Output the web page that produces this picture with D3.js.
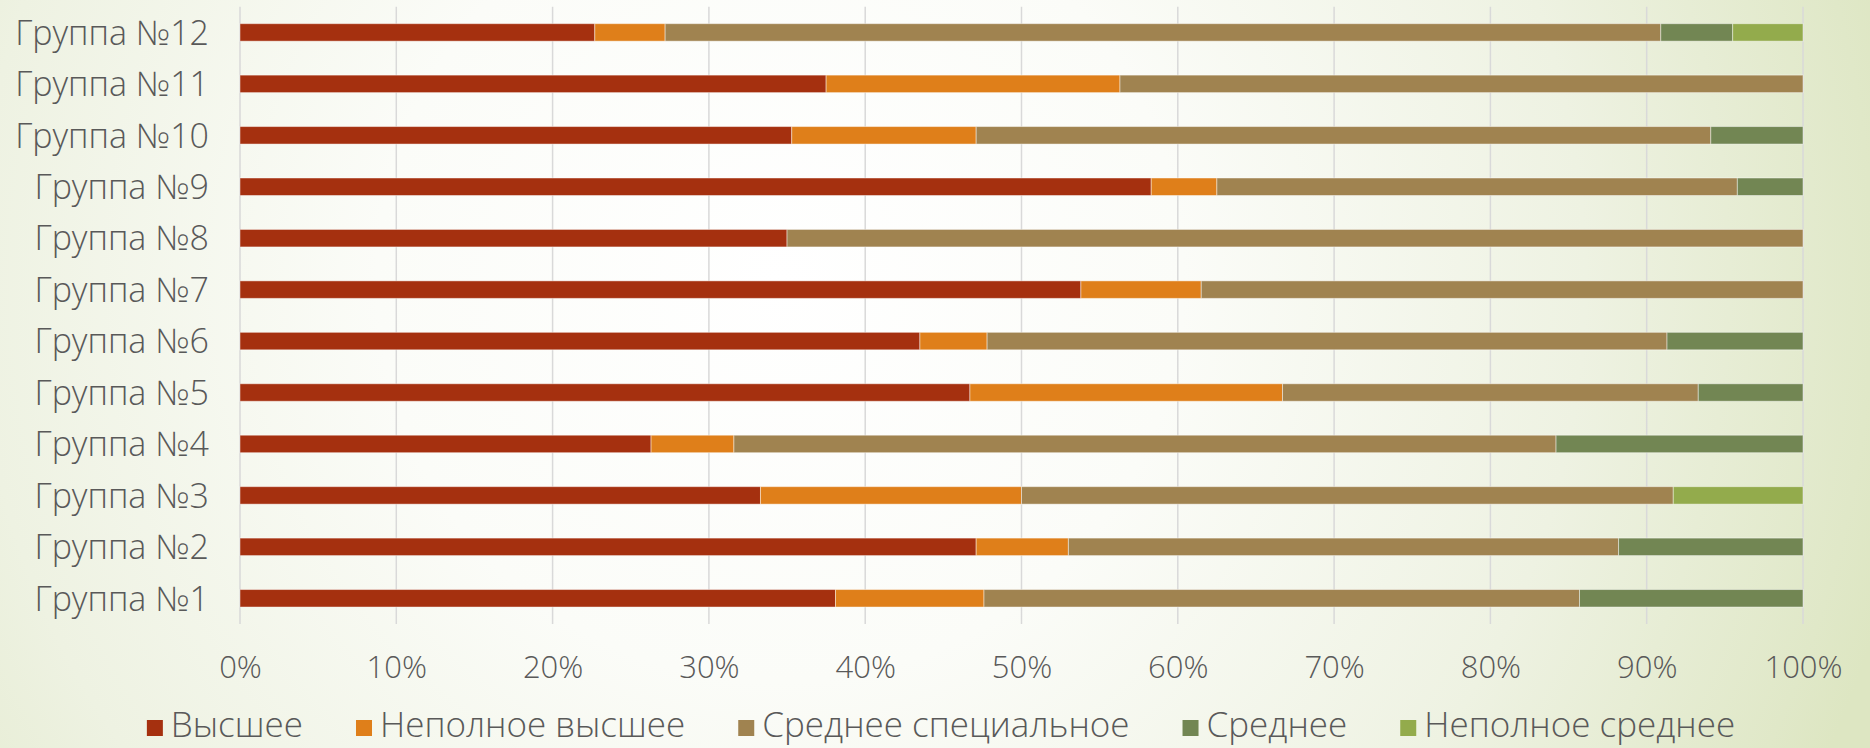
<!DOCTYPE html>
<html>
<head>
<meta charset="utf-8">
<script src="https://cdn.jsdelivr.net/npm/d3@7"></script>
<style>
    html, body { margin: 0; padding: 0; }
    svg { display: block; }
    text { font-family: "Open Sans", "DejaVu Sans", sans-serif; font-weight: 300; fill: #595959; }
</style>
</head>
<body>
<svg id="chart"></svg>
<script>
const width = 1870;
const height = 748;
const margin = {top: 6.7, right: 67, bottom: 124, left: 240};

// Categories, bottom to top
const groups = ["Группа №1", "Группа №2", "Группа №3", "Группа №4", "Группа №5", "Группа №6",
    "Группа №7", "Группа №8", "Группа №9", "Группа №10", "Группа №11", "Группа №12"];
const levels = ["Высшее", "Неполное высшее", "Среднее специальное", "Среднее", "Неполное среднее"];
const colors = ["#a5300f", "#df7f1a", "#a08350", "#728653", "#93ab4c"];

// Shares in %, one value per group (№1..№12)
const higher = [38.1, 47.1, 33.3, 26.3, 46.7, 43.5, 53.8, 35.0, 58.3, 35.3, 37.5, 22.7];
const incompleteHigher = [9.5, 5.9, 16.7, 5.3, 20.0, 4.3, 7.7, 0, 4.2, 11.8, 18.8, 4.5];
const specialSecondary = [38.1, 35.2, 41.7, 52.6, 26.6, 43.5, 38.5, 65.0, 33.3, 47.0, 43.7, 63.7];
const secondary = [14.3, 11.8, 0, 15.8, 6.7, 8.7, 0, 0, 4.2, 5.9, 0, 4.6];
const incompleteSecondary = [0, 0, 8.3, 0, 0, 0, 0, 0, 0, 0, 0, 4.5];

const xTicks = [0, 0.1, 0.2, 0.3, 0.4, 0.5, 0.6, 0.7, 0.8, 0.9, 1];

const seriesValues = [higher, incompleteHigher, specialSecondary, secondary, incompleteSecondary];
const table = groups.map((g, i) => {
    let row = {group: g};
    levels.forEach((l, j) => row[l] = seriesValues[j][i]);
    return row;
});

const svg = d3.select("#chart")
    .attr("width", width)
    .attr("height", height)
    .attr("viewBox", [0, 0, width, height]);

// Background
const grad = svg.append("defs").append("radialGradient")
    .attr("id", "bg")
    .attr("gradientUnits", "userSpaceOnUse")
    .attr("cx", 780).attr("cy", 280).attr("r", 1150);
[[0, "#ffffff"], [0.35, "#fbfcf8"], [0.7, "#eef2e2"], [0.95, "#e0e8c8"], [1, "#dde6c2"]]
    .forEach(s => grad.append("stop").attr("offset", s[0]).attr("stop-color", s[1]));
svg.append("rect")
    .attr("width", width)
    .attr("height", height)
    .attr("fill", "url(#bg)");

const xScale = d3.scaleLinear([0, 1], [margin.left, width - margin.right]);
const yScale = d3.scaleBand(groups, [height - margin.bottom, margin.top])
    .paddingInner(0.66)
    .paddingOuter(0.33);

// Gridlines
svg.append("g")
    .selectAll("line")
    .data(xTicks)
    .join("line")
    .attr("x1", d => xScale(d))
    .attr("x2", d => xScale(d))
    .attr("y1", margin.top)
    .attr("y2", height - margin.bottom)
    .attr("stroke", "#d9d9d9")
    .attr("stroke-width", 1.5);

// Stacked bars
const stack = d3.stack().keys(levels).offset(d3.stackOffsetExpand);
const series = stack(table);

svg.append("g")
    .selectAll("g")
    .data(series)
    .join("g")
    .attr("fill", (d, i) => colors[i])
    .selectAll("rect")
    .data(d => d.filter(v => v[1] > v[0]))
    .join("rect")
    .attr("x", d => xScale(d[0]))
    .attr("y", d => yScale(d.data.group))
    .attr("width", d => xScale(d[1]) - xScale(d[0]))
    .attr("height", yScale.bandwidth())
    .attr("stroke", "#ffffff")
    .attr("stroke-opacity", 0.45)
    .attr("stroke-width", 1);

// X axis
const xAxis = d3.axisBottom(xScale)
    .tickValues(xTicks)
    .tickFormat(d3.format(".0%"))
    .tickSize(0);

svg.append("g")
    .attr("transform", `translate(0,${height - margin.bottom})`)
    .call(xAxis)
    .call(g => g.select(".domain").remove())
    .call(g => g.selectAll("text")
        .attr("y", 54)
        .attr("dy", null)
        .attr("font-size", 31)
        .attr("font-family", null)
        .attr("fill", "#595959"));

// Y axis
const yAxis = d3.axisLeft(yScale).tickSize(0);

svg.append("g")
    .attr("transform", `translate(${margin.left},0)`)
    .call(yAxis)
    .call(g => g.select(".domain").remove())
    .call(g => g.selectAll("text")
        .attr("x", -31)
        .attr("dy", "0.36em")
        .attr("font-size", 34)
        .attr("font-family", null)
        .attr("fill", "#595959"));

// Legend
const legend = svg.append("g");
const items = legend.selectAll("g")
    .data(levels)
    .join("g");

items.append("rect")
    .attr("y", 720)
    .attr("width", 16)
    .attr("height", 16)
    .attr("fill", (d, i) => colors[i]);

items.append("text")
    .attr("x", 24)
    .attr("y", 737)
    .attr("font-size", 35)
    .text(d => d);

let offset = 0;
items.each(function () {
    const w = d3.select(this).select("text").node().getComputedTextLength();
    d3.select(this).attr("data-x", offset);
    offset += 24 + w + 53;
});
const legendWidth = offset - 53;
const legendStart = 941 - legendWidth / 2;
items.attr("transform", function () {
    return `translate(${legendStart + (+d3.select(this).attr("data-x"))},0)`;
});
</script>
</body>
</html>
